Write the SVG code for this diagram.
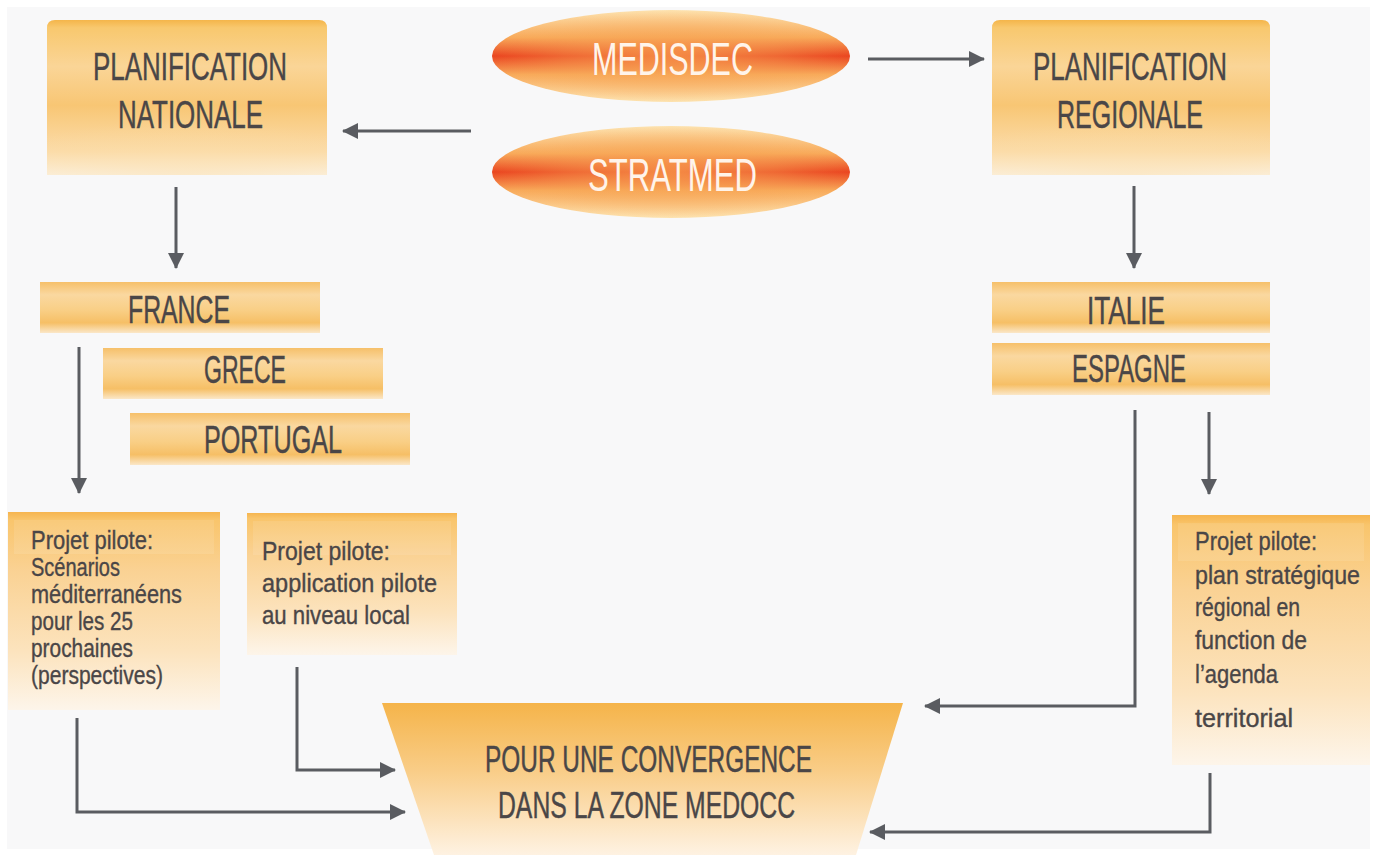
<svg xmlns="http://www.w3.org/2000/svg" width="1376" height="855" viewBox="0 0 1376 855">
<style>
.t{font-family:"Liberation Sans",Arial,sans-serif;fill:#4a4647;stroke:#4a4647;stroke-width:0.45;}
.big{font-size:38px;}
.oval{font-family:"Liberation Sans",Arial,sans-serif;fill:#fff4ea;font-size:46px;}
.sm{font-size:25px;stroke-width:0.35;}
.conn{fill:none;stroke:#5a5c61;stroke-width:3;}
.arr{marker-end:url(#ah);}
</style>
<defs>
<marker id="ah" markerUnits="userSpaceOnUse" markerWidth="16" markerHeight="16" refX="15" refY="8" orient="auto">
<path d="M0,0 L16,8 L0,16 z" fill="#5a5c61"/>
</marker>
<linearGradient id="gBig" x1="0" y1="0" x2="0" y2="1">
<stop offset="0" stop-color="#f4b54a"/>
<stop offset="0.05" stop-color="#f8c86e"/>
<stop offset="0.3" stop-color="#fad597"/>
<stop offset="0.55" stop-color="#f8c674"/>
<stop offset="0.85" stop-color="#fbdcaa"/>
<stop offset="1" stop-color="#fbf3e6"/>
</linearGradient>
<radialGradient id="gDome" cx="0.5" cy="1" r="0.75" fx="0.5" fy="1">
<stop offset="0" stop-color="#fbe0b0" stop-opacity="0.9"/>
<stop offset="0.7" stop-color="#fbdca4" stop-opacity="0.4"/>
<stop offset="1" stop-color="#fbdca4" stop-opacity="0"/>
</radialGradient>
<linearGradient id="gBar" x1="0" y1="0" x2="0" y2="1">
<stop offset="0" stop-color="#f6c06a"/>
<stop offset="0.25" stop-color="#fad8a0"/>
<stop offset="0.55" stop-color="#f9cf86"/>
<stop offset="0.8" stop-color="#f6bf66"/>
<stop offset="1" stop-color="#fbe7c8"/>
</linearGradient>
<linearGradient id="gPil" x1="0" y1="0" x2="0" y2="1">
<stop offset="0" stop-color="#f6b54f"/>
<stop offset="0.04" stop-color="#f9c56c"/>
<stop offset="0.3" stop-color="#fad294"/>
<stop offset="0.7" stop-color="#fce3bd"/>
<stop offset="1" stop-color="#fdf5ea"/>
</linearGradient>
<linearGradient id="gTrap" x1="0" y1="0" x2="0" y2="1">
<stop offset="0" stop-color="#f5b44a"/>
<stop offset="0.45" stop-color="#f9cd88"/>
<stop offset="1" stop-color="#fef2e2"/>
</linearGradient>
<linearGradient id="gOval" x1="0" y1="0" x2="0" y2="1">
<stop offset="0" stop-color="#fde3b0"/>
<stop offset="0.3" stop-color="#f8aa5a"/>
<stop offset="0.5" stop-color="#ea4520"/>
<stop offset="0.7" stop-color="#f8aa5a"/>
<stop offset="1" stop-color="#fde3b0"/>
</linearGradient>
<radialGradient id="gOvalC" cx="0.5" cy="0.5" r="0.5">
<stop offset="0" stop-color="#f8a050" stop-opacity="0.75"/>
<stop offset="0.6" stop-color="#f7a555" stop-opacity="0.35"/>
<stop offset="1" stop-color="#f7a555" stop-opacity="0"/>
</radialGradient>
</defs>

<rect x="0" y="0" width="1376" height="855" fill="#ffffff"/>
<rect x="7" y="7" width="1363" height="842" fill="#f8f8f9"/>

<g id="connectors">
<line class="conn arr" x1="471" y1="131" x2="343" y2="131"/>
<line class="conn arr" x1="868" y1="59" x2="984" y2="59"/>
<line class="conn arr" x1="176" y1="187" x2="176" y2="268"/>
<line class="conn arr" x1="1134" y1="186" x2="1134" y2="268"/>
<line class="conn arr" x1="79" y1="347" x2="79" y2="493"/>
<polyline class="conn arr" points="1135,410 1135,706 925,706"/>
<line class="conn arr" x1="1209" y1="412" x2="1209" y2="494"/>
<polyline class="conn arr" points="1210,773 1210,832 870,832"/>
<polyline class="conn arr" points="77,718 77,812 405,812"/>
<polyline class="conn arr" points="297,667 297,770 395,770"/>
</g>

<g id="n-plan-nat">
<path d="M47,28 Q47,20 55,20 L319,20 Q327,20 327,28 L327,175 L47,175 Z" fill="url(#gBig)"/>
<path d="M47,130 Q187,75 327,130 L327,175 L47,175 Z" fill="url(#gDome)" opacity="0.6"/>
<text class="t big" x="190" y="80" text-anchor="middle" textLength="194" lengthAdjust="spacingAndGlyphs">PLANIFICATION</text>
<text class="t big" x="190.5" y="128" text-anchor="middle" textLength="145" lengthAdjust="spacingAndGlyphs">NATIONALE</text>
</g>

<g id="n-plan-reg">
<path d="M992,28 Q992,20 1000,20 L1262,20 Q1270,20 1270,28 L1270,175 L992,175 Z" fill="url(#gBig)"/>
<path d="M992,130 Q1131,75 1270,130 L1270,175 L992,175 Z" fill="url(#gDome)" opacity="0.6"/>
<text class="t big" x="1130" y="80" text-anchor="middle" textLength="194" lengthAdjust="spacingAndGlyphs">PLANIFICATION</text>
<text class="t big" x="1130" y="128" text-anchor="middle" textLength="146" lengthAdjust="spacingAndGlyphs">REGIONALE</text>
</g>

<g id="n-medisdec">
<ellipse cx="671" cy="56" rx="179" ry="46" fill="url(#gOval)"/>
<ellipse cx="671" cy="56" rx="179" ry="46" fill="url(#gOvalC)"/>
<text class="oval" x="672.5" y="75" text-anchor="middle" textLength="161" lengthAdjust="spacingAndGlyphs">MEDISDEC</text>
</g>

<g id="n-stratmed">
<ellipse cx="671" cy="172" rx="179" ry="46" fill="url(#gOval)"/>
<ellipse cx="671" cy="172" rx="179" ry="46" fill="url(#gOvalC)"/>
<text class="oval" x="672.5" y="191" text-anchor="middle" textLength="169" lengthAdjust="spacingAndGlyphs">STRATMED</text>
</g>

<g id="n-france">
<rect x="40" y="282" width="280" height="51" fill="url(#gBar)"/>
<text class="t big" x="179" y="323" text-anchor="middle" textLength="102" lengthAdjust="spacingAndGlyphs">FRANCE</text>
</g>
<g id="n-grece">
<rect x="103" y="348" width="280" height="51" fill="url(#gBar)"/>
<text class="t big" x="245" y="383" text-anchor="middle" textLength="82" lengthAdjust="spacingAndGlyphs">GRECE</text>
</g>
<g id="n-portugal">
<rect x="130" y="413" width="280" height="52" fill="url(#gBar)"/>
<text class="t big" x="273" y="453" text-anchor="middle" textLength="138" lengthAdjust="spacingAndGlyphs">PORTUGAL</text>
</g>

<g id="n-italie">
<rect x="992" y="282" width="278" height="51" fill="url(#gBar)"/>
<text class="t big" x="1126" y="324" text-anchor="middle" textLength="78" lengthAdjust="spacingAndGlyphs">ITALIE</text>
</g>
<g id="n-espagne">
<rect x="992" y="343" width="278" height="52" fill="url(#gBar)"/>
<text class="t big" x="1129" y="382" text-anchor="middle" textLength="114" lengthAdjust="spacingAndGlyphs">ESPAGNE</text>
</g>

<g id="n-pilote1">
<rect x="8" y="512" width="212" height="198" fill="url(#gPil)"/>
<rect x="14" y="520" width="200" height="34" fill="#fff" opacity="0.1"/>
<text class="t sm" x="31" y="549" textLength="122" lengthAdjust="spacingAndGlyphs">Projet pilote:</text>
<text class="t sm" x="31" y="576" textLength="89" lengthAdjust="spacingAndGlyphs">Scénarios</text>
<text class="t sm" x="31" y="603" textLength="151" lengthAdjust="spacingAndGlyphs">méditerranéens</text>
<text class="t sm" x="31" y="630" textLength="102" lengthAdjust="spacingAndGlyphs">pour les 25</text>
<text class="t sm" x="31" y="657" textLength="102" lengthAdjust="spacingAndGlyphs">prochaines</text>
<text class="t sm" x="31" y="684" textLength="132" lengthAdjust="spacingAndGlyphs">(perspectives)</text>
</g>

<g id="n-pilote2">
<rect x="247" y="513" width="210" height="142" fill="url(#gPil)"/>
<rect x="253" y="521" width="198" height="34" fill="#fff" opacity="0.1"/>
<text class="t sm" x="262" y="560" textLength="128" lengthAdjust="spacingAndGlyphs">Projet pilote:</text>
<text class="t sm" x="262" y="592" textLength="175" lengthAdjust="spacingAndGlyphs">application pilote</text>
<text class="t sm" x="262" y="624" textLength="148" lengthAdjust="spacingAndGlyphs">au niveau local</text>
</g>

<g id="n-pilote3">
<rect x="1172" y="515" width="198" height="250" fill="url(#gPil)"/>
<rect x="1178" y="523" width="186" height="38" fill="#fff" opacity="0.1"/>
<text class="t sm" x="1195" y="550" textLength="122" lengthAdjust="spacingAndGlyphs">Projet pilote:</text>
<text class="t sm" x="1195" y="584" textLength="165" lengthAdjust="spacingAndGlyphs">plan stratégique</text>
<text class="t sm" x="1195" y="616" textLength="105" lengthAdjust="spacingAndGlyphs">régional en</text>
<text class="t sm" x="1195" y="649" textLength="112" lengthAdjust="spacingAndGlyphs">function de</text>
<text class="t sm" x="1195" y="683" textLength="83" lengthAdjust="spacingAndGlyphs">l’agenda</text>
<text class="t sm" x="1195" y="727" textLength="98" lengthAdjust="spacingAndGlyphs">territorial</text>
</g>

<g id="n-convergence">
<path d="M382,703 L903,703 L856,855 L434,855 Z" fill="url(#gTrap)"/>
<text class="t" font-size="37" x="648.5" y="772" text-anchor="middle" textLength="327" lengthAdjust="spacingAndGlyphs">POUR UNE CONVERGENCE</text>
<text class="t" font-size="37" x="646.5" y="818" text-anchor="middle" textLength="297" lengthAdjust="spacingAndGlyphs">DANS LA ZONE MEDOCC</text>
</g>
</svg>
